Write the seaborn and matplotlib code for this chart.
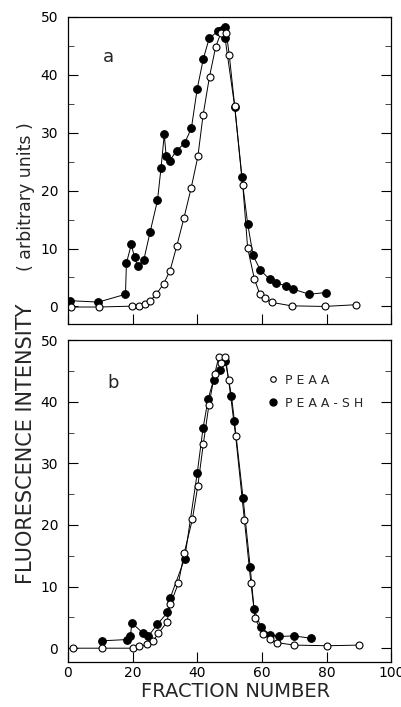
import numpy as np
import pandas as pd
import seaborn as sns
import matplotlib.pyplot as plt
from matplotlib.lines import Line2D
from matplotlib.ticker import MultipleLocator

# panel a : PEAA (open) / PEAA-SH (filled)
a_peaa_x = [0.8, 9.5, 19.8, 21.9, 23.9, 25.5, 27.3, 29.6, 31.6, 33.7, 35.9, 38.1, 40.2,
            41.8, 43.8, 45.7, 47.3, 49.0, 49.9, 51.6, 54.1, 55.6, 57.7, 59.4, 61.0,
            63.1, 69.2, 79.4, 89.2]
a_peaa_y = [-0.1, -0.1, 0.05, 0.1, 0.4, 1.0, 2.1, 3.9, 6.2, 10.5, 15.3, 20.4, 25.9,
            33.0, 39.7, 44.8, 47.2, 47.2, 43.5, 34.6, 20.9, 10.1, 4.7, 2.1, 1.4,
            0.7, 0.1, 0.0, 0.3]
a_sh_x = [0.5, 9.4, 17.8, 18.1, 19.6, 20.6, 21.6, 23.5, 25.4, 27.7, 28.8, 29.8, 30.4,
          31.5, 33.6, 36.1, 38.2, 40.0, 41.9, 43.7, 46.5, 47.6, 48.6, 48.6, 51.6,
          53.8, 55.6, 57.3, 59.5, 62.4, 64.5, 67.4, 69.6, 74.7, 79.7]
a_sh_y = [1.0, 0.75, 2.1, 7.5, 10.7, 8.5, 6.9, 8.1, 12.8, 18.3, 23.9, 29.7, 25.9,
          25.2, 26.9, 28.2, 30.8, 37.6, 42.8, 46.3, 47.6, 47.7, 48.3, 46.4, 34.5,
          22.3, 14.3, 8.8, 6.3, 4.7, 4.0, 3.6, 3.0, 2.1, 2.4]

# panel b
b_peaa_x = [1.7, 10.6, 20.2, 22.0, 24.4, 26.4, 28.0, 30.6, 31.7, 34.2, 36.0, 38.5, 40.2,
            41.9, 43.6, 45.4, 46.7, 47.5, 48.7, 49.7, 51.9, 54.6, 56.6, 57.9, 60.2,
            62.6, 64.7, 70.0, 80.3, 90.0]
b_peaa_y = [0.0, 0.0, 0.0, 0.3, 0.6, 1.2, 2.4, 4.2, 7.1, 10.6, 15.5, 20.9, 26.4,
            33.2, 39.4, 44.5, 47.3, 46.2, 47.3, 43.6, 34.4, 20.8, 10.6, 4.9, 2.3,
            1.5, 0.9, 0.5, 0.4, 0.5]
b_sh_x = [10.6, 18.2, 19.3, 19.8, 23.1, 24.8, 27.7, 30.8, 31.6, 36.1, 40.0, 41.8, 43.4,
          45.1, 46.9, 48.7, 50.6, 51.5, 54.2, 56.4, 57.6, 59.7, 62.6, 65.4, 70.0, 75.2]
b_sh_y = [1.2, 1.4, 1.9, 4.1, 2.5, 1.9, 3.9, 5.8, 8.1, 14.5, 28.4, 35.7, 40.5,
          43.6, 45.2, 46.6, 40.9, 36.9, 24.3, 13.1, 6.3, 3.4, 2.2, 1.9, 2.0, 1.6]

sns.set_style("ticks")
plt.rcParams['font.family'] = ['DejaVu Sans']

fig = plt.figure(figsize=(4.02, 7.07), dpi=100)
ax_a = fig.add_axes([0.169, 0.542, 0.804, 0.434])
ax_b = fig.add_axes([0.169, 0.064, 0.804, 0.455])

open_kw = dict(color='black', lw=0.7, marker='o', markersize=5, markerfacecolor='white',
               markeredgecolor='black', markeredgewidth=0.8)
fill_kw = dict(color='black', lw=0.7, marker='o', markersize=5.5, markerfacecolor='black',
               markeredgecolor='black', markeredgewidth=0.8)

for ax, ox, oy, fx, fy in [(ax_a, a_peaa_x, a_peaa_y, a_sh_x, a_sh_y),
                           (ax_b, b_peaa_x, b_peaa_y, b_sh_x, b_sh_y)]:
    sns.lineplot(x=fx, y=fy, ax=ax, estimator=None, sort=False, **fill_kw)
    sns.lineplot(x=ox, y=oy, ax=ax, estimator=None, sort=False, **open_kw)
    ax.set_xlim(0, 100)
    ax.xaxis.set_major_locator(MultipleLocator(20))
    ax.yaxis.set_major_locator(MultipleLocator(10))
    ax.yaxis.set_minor_locator(MultipleLocator(5))
    ax.tick_params(direction='in', top=False, right=True, length=7, width=0.8,
                   labelsize=10, colors='black')
    ax.tick_params(axis='y', pad=7)
    ax.tick_params(axis='x', pad=3)
    ax.tick_params(which='minor', direction='in', right=True, length=4, width=0.6)
    for s in ax.spines.values():
        s.set_linewidth(0.9)
        s.set_color('black')
    ax.set_xlabel('')
    ax.set_ylabel('')

ax_a.set_ylim(-3, 50)
ax_b.set_ylim(-2.2, 50)
ax_a.set_yticks([0, 10, 20, 30, 40, 50])
ax_b.set_yticks([0, 10, 20, 30, 40, 50])
ax_a.tick_params(labelbottom=False)

ax_a.text(12.5, 43, 'a', fontsize=13, ha='center', va='center')
ax_b.text(14, 43, 'b', fontsize=13, ha='center', va='center')

handles = [Line2D([], [], ls='none', marker='o', markersize=4, markerfacecolor='white',
                  markeredgecolor='black', markeredgewidth=0.8),
           Line2D([], [], ls='none', marker='o', markersize=5, markerfacecolor='black',
                  markeredgecolor='black')]
ax_b.legend(handles, ['P E A A', 'P E A A - S H'], loc='upper left',
            bbox_to_anchor=(0.58, 0.93), frameon=False, fontsize=9,
            handletextpad=0.5, labelspacing=0.8, handlelength=1.0)

fig.text(0.585, 0.022, 'FRACTION NUMBER', ha='center', va='center', fontsize=14)
fig.text(0.065, 0.372, 'FLUORESCENCE INTENSITY', rotation=90, ha='center', va='center',
         fontsize=15)
fig.text(0.065, 0.722, '( arbitrary units )', rotation=90, ha='center', va='center',
         fontsize=12.5)

fig.savefig('out.png', dpi=100)
